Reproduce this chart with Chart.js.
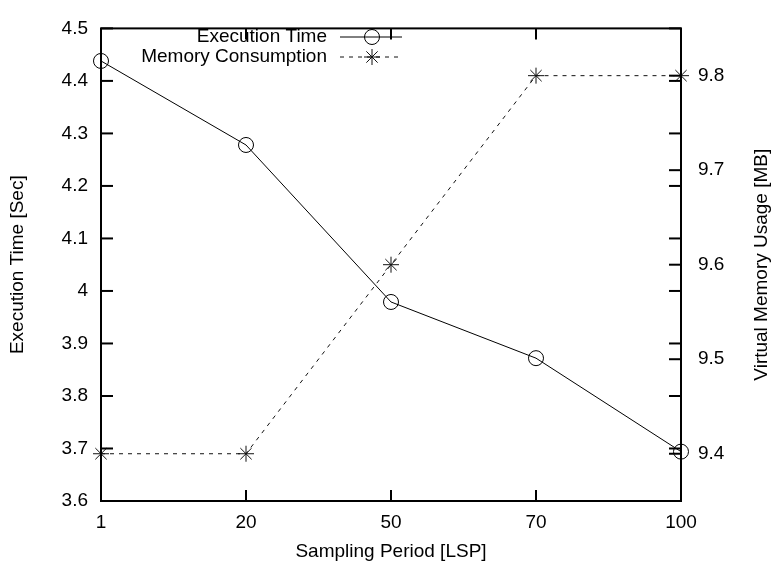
<!DOCTYPE html>
<html>
<head>
<meta charset="utf-8">
<script src="https://cdn.jsdelivr.net/npm/chart.js@4.4.1/dist/chart.umd.min.js"></script>
<style>
  body { margin: 0; background: #fff; }
</style>
</head>
<body>
<canvas id="chart" width="773" height="564"></canvas>
<script>
// values
const periods = ["1", "20", "50", "70", "100"];
const executionTime = [4.438, 4.278, 3.979, 3.872, 3.694];
const memoryUsage = [9.4, 9.4, 9.6, 9.8, 9.8];
const timeTicks = [3.6, 3.7, 3.8, 3.9, 4.0, 4.1, 4.2, 4.3, 4.4, 4.5];
const memoryTicks = [9.4, 9.5, 9.6, 9.7, 9.8];

const FONT = '"Liberation Sans", Arial, sans-serif';
const FS = 19;

function fmt(v) {
  return String(Number(v.toFixed(2)));
}

// gnuplot style frame + inward ticks on all sides
const framePlugin = {
  id: "frame",
  afterDatasetsDraw(chart) {
    const ctx = chart.ctx;
    const { left, right, top, bottom } = chart.chartArea;
    const s = chart.scales;
    ctx.save();
    ctx.strokeStyle = "#000";
    ctx.lineWidth = 2;
    ctx.setLineDash([]);
    ctx.strokeRect(left, top, right - left, bottom - top);
    const seg = (x1, y1, x2, y2) => {
      ctx.beginPath();
      ctx.moveTo(x1, y1);
      ctx.lineTo(x2, y2);
      ctx.stroke();
    };
    s.x.ticks.forEach((t, i) => {
      const px = s.x.getPixelForTick(i);
      seg(px, bottom, px, bottom - 11);
      seg(px, top, px, top + 11);
    });
    s.y.ticks.forEach((t, i) => {
      const py = s.y.getPixelForTick(i);
      seg(left, py, left + 12, py);
      seg(right, py, right - 12, py);
    });
    s.y2.ticks.forEach((t, i) => {
      const py = s.y2.getPixelForTick(i);
      seg(right, py, right - 12, py);
    });

    // right axis title, reading bottom to top
    ctx.fillStyle = "#000";
    ctx.font = FS + "px " + FONT;
    ctx.textAlign = "center";
    ctx.textBaseline = "middle";
    ctx.translate(762, (top + bottom) / 2);
    ctx.rotate(-Math.PI / 2);
    ctx.fillText("Virtual Memory Usage [MB]", 0, 0);
    ctx.restore();

    // key, top left, text on the left of the sample
    ctx.save();
    ctx.font = FS + "px " + FONT;
    ctx.textAlign = "right";
    ctx.textBaseline = "middle";
    chart.data.datasets.forEach((ds, i) => {
      const y = 37 + i * 20;
      ctx.fillStyle = "#000";
      ctx.fillText(ds.label, 327, y);
      ctx.strokeStyle = ds.borderColor;
      ctx.lineWidth = 1;
      ctx.setLineDash(ds.borderDash || []);
      seg(340, y, 402, y);
      ctx.setLineDash([]);
      ctx.fillStyle = "rgba(0,0,0,0)";
      ctx.strokeStyle = ds.pointBorderColor;
      ctx.lineWidth = 1;
      Chart.helpers.drawPoint(ctx, { pointStyle: ds.pointStyle, radius: ds.pointRadius, rotation: 0, borderWidth: 1 }, 372, y);
    });
    ctx.restore();
  },
};

const ctx = document.getElementById("chart").getContext("2d");
new Chart(ctx, {
  type: "line",
  data: {
    labels: periods,
    datasets: [
      {
        label: "Execution Time",
        data: executionTime,
        yAxisID: "y",
        borderColor: "#000",
        borderWidth: 1,
        pointStyle: "circle",
        pointRadius: 7.5,
        pointBorderWidth: 1,
        pointBorderColor: "#000",
        pointBackgroundColor: "rgba(0,0,0,0)",
        tension: 0,
        clip: false,
      },
      {
        label: "Memory Consumption",
        data: memoryUsage,
        yAxisID: "y2",
        borderColor: "#111",
        borderWidth: 1,
        borderDash: [4, 5],
        pointStyle: "star",
        pointRadius: 8,
        pointBorderWidth: 1,
        pointBorderColor: "#111",
        pointBackgroundColor: "rgba(0,0,0,0)",
        tension: 0,
        clip: false,
      },
    ],
  },
  options: {
    responsive: false,
    animation: false,
    layout: { padding: { top: 14, left: 0, right: 0, bottom: 0 } },
    plugins: {
      legend: { display: false },
      tooltip: { enabled: false },
    },
    scales: {
      x: {
        type: "category",
        offset: false,
        grid: { display: false, drawTicks: false },
        border: { display: false },
        ticks: { color: "#000", font: { family: FONT, size: FS }, padding: 10, maxRotation: 0, autoSkip: false },
        title: { display: true, text: "Sampling Period [LSP]", color: "#000", font: { family: FONT, size: FS }, padding: { top: 0, bottom: 1 } },
        afterFit(scale) {
          scale.height = 63;
        },
      },
      y: {
        position: "left",
        min: 3.6,
        max: 4.5,
        grid: { display: false, drawTicks: false },
        border: { display: false },
        ticks: { color: "#000", font: { family: FONT, size: FS }, padding: 13, callback: (v) => fmt(v) },
        afterBuildTicks(scale) {
          scale.ticks = timeTicks.map((v) => ({ value: v }));
        },
        title: { display: true, text: "Execution Time [Sec]", color: "#000", font: { family: FONT, size: FS }, padding: { top: 6, bottom: 0 } },
        afterFit(scale) {
          scale.width = 101;
        },
      },
      y2: {
        position: "right",
        min: 9.35,
        max: 9.85,
        grid: { display: false, drawTicks: false },
        border: { display: false },
        ticks: { color: "#000", font: { family: FONT, size: FS }, padding: 17, callback: (v) => fmt(v) },
        afterBuildTicks(scale) {
          scale.ticks = memoryTicks.map((v) => ({ value: v }));
        },
        afterFit(scale) {
          scale.width = 92;
        },
      },
    },
  },
  plugins: [framePlugin],
});
</script>
</body>
</html>
